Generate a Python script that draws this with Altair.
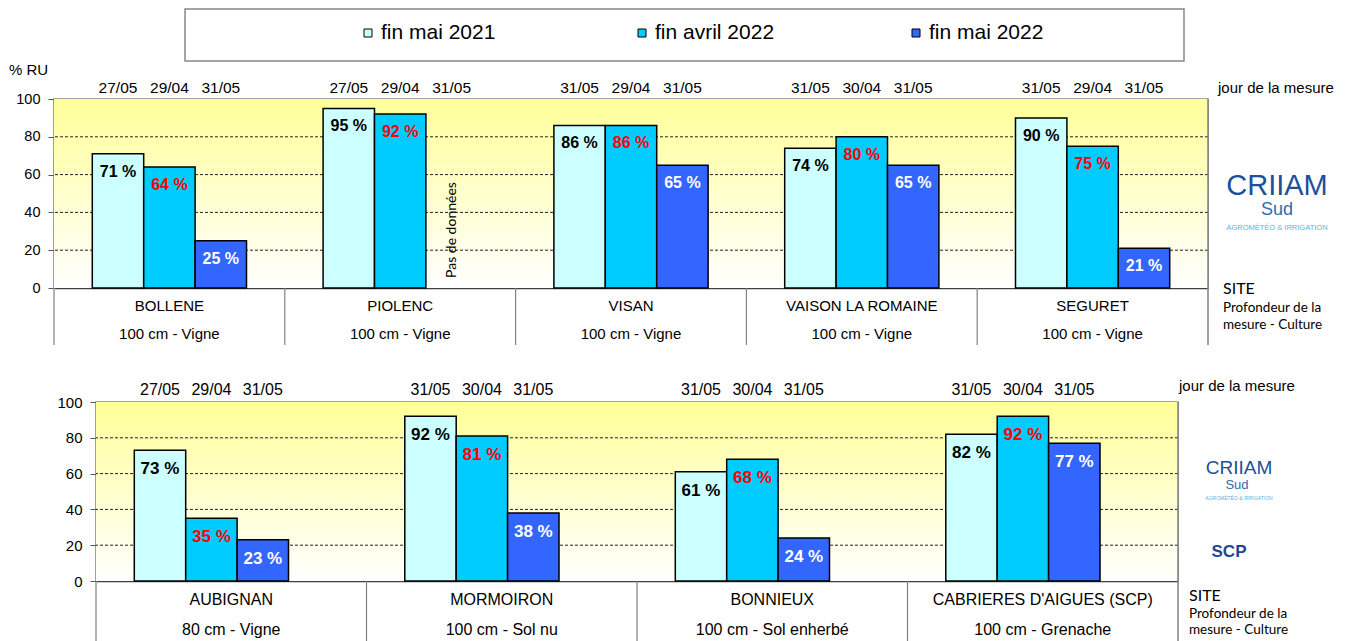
import altair as alt
import pandas as pd

FONT = "Liberation Sans"
FONT2 = "Lato"

series = ["fin mai 2021", "fin avril 2022", "fin mai 2022"]
bar_colors = ["#CCFFFF", "#00CCFF", "#3366FF"]
label_colors = ["#000000", "#FF0000", "#FFFFFF"]

top_sites = ["BOLLENE", "PIOLENC", "VISAN", "VAISON LA ROMAINE", "SEGURET"]
top_details = ["100 cm - Vigne", "100 cm - Vigne", "100 cm - Vigne", "100 cm - Vigne", "100 cm - Vigne"]
top_mai2021 = [71, 95, 86, 74, 90]
top_avril2022 = [64, 92, 86, 80, 75]
top_mai2022 = [25, None, 65, 65, 21]
top_jour_mai2021 = ["27/05", "27/05", "31/05", "31/05", "31/05"]
top_jour_avril2022 = ["29/04", "29/04", "29/04", "30/04", "29/04"]
top_jour_mai2022 = ["31/05", "31/05", "31/05", "31/05", "31/05"]
top_no_data_site = ["PIOLENC"]
top_no_data_series = ["fin mai 2022"]

bot_sites = ["AUBIGNAN", "MORMOIRON", "BONNIEUX", "CABRIERES D'AIGUES (SCP)"]
bot_details = ["80 cm - Vigne", "100 cm - Sol nu", "100 cm - Sol enherbé", "100 cm - Grenache"]
bot_mai2021 = [73, 92, 61, 82]
bot_avril2022 = [35, 81, 68, 92]
bot_mai2022 = [23, 38, 24, 77]
bot_jour_mai2021 = ["27/05", "31/05", "31/05", "31/05"]
bot_jour_avril2022 = ["29/04", "30/04", "30/04", "30/04"]
bot_jour_mai2022 = ["31/05", "31/05", "31/05", "31/05"]

y_ticks = [0, 20, 40, 60, 80, 100]
grid_levels = [20, 40, 60, 80]

ONE = pd.DataFrame({"k": [0]})
VIEW = alt.ViewBackground(stroke="#888888", strokeWidth=1.5)


def note(text, x, y, size, color="#000000", font=FONT, weight="normal", align="left"):
    return alt.Chart(pd.DataFrame({"t": [text]})).mark_text(
        font=font, fontSize=size, color=color, fontWeight=weight, align=align,
        baseline="middle"
    ).encode(x=alt.value(x), y=alt.value(y), text="t:N")


def panel(sites, details, vals, jours, nd_sites, nd_series, W, H, s, notes):
    rows = []
    for i, site in enumerate(sites):
        for k, ser in enumerate(series):
            v = vals[k][i]
            rows.append({"site": site, "series": ser, "value": v, "jour": jours[k][i],
                         "label": "" if v is None else f"{v} %", "tcol": label_colors[k]})
    df = pd.DataFrame(rows)
    bars_df = df[df["value"].notna()].copy()

    x_scale = alt.Scale(domain=sites, paddingInner=0, paddingOuter=0)
    x_axis = alt.Axis(title=None, labels=False, ticks=False, grid=False,
                      domainColor="#404040", domainWidth=1.5)
    xenc = alt.X("site:N", sort=sites, scale=x_scale, axis=x_axis)
    xoff = alt.XOffset("series:N", sort=series,
                       scale=alt.Scale(domain=series, paddingInner=0, paddingOuter=0.745))
    y_axis = alt.Axis(title=None, values=y_ticks, grid=False, tickSize=6, labelPadding=8,
                      labelFontSize=s["ylab"], labelFont=FONT, labelColor="#000000",
                      domainColor="#888888", domainWidth=1.5, tickColor="#555555")
    yenc = alt.Y("value:Q", scale=alt.Scale(domain=[0, 100]), axis=y_axis)

    bg = alt.Chart(ONE).mark_rect(
        fill=alt.Gradient(gradient="linear", x1=0, x2=0, y1=0, y2=1,
                          stops=[alt.GradientStop(color="#FFFF99", offset=0),
                                 alt.GradientStop(color="#FFFFFF", offset=1)])
    ).encode(x=alt.value(0), x2=alt.value(W), y=alt.value(0), y2=alt.value(H))

    grid = alt.Chart(pd.DataFrame({"value": grid_levels})).mark_rule(
        color="#222222", strokeWidth=1, strokeDash=[3, 2]
    ).encode(y=yenc)

    bars = alt.Chart(bars_df).mark_bar(stroke="black", strokeWidth=1.5).encode(
        x=xenc, xOffset=xoff, y=yenc,
        fill=alt.Fill("series:N", scale=alt.Scale(domain=series, range=bar_colors), legend=None)
    )
    vlab = alt.Chart(bars_df).mark_text(
        font=FONT, fontWeight="bold", fontSize=s["val"], dy=s["vdy"], baseline="middle"
    ).encode(x=xenc, xOffset=xoff, y=yenc, text="label:N", color=alt.Color("tcol:N", scale=None))

    dates = alt.Chart(df).mark_text(font=FONT, fontSize=s["date"], baseline="middle", color="black").encode(
        x=xenc, xOffset=xoff, y=alt.value(s["date_y"]), text="jour:N"
    )

    sdf = pd.DataFrame({"site": sites, "detail": details})
    seps = alt.Chart(sdf).mark_rule(color="#808080", strokeWidth=1.2).encode(
        x=alt.X("site:N", sort=sites, scale=x_scale, axis=x_axis, bandPosition=0),
        y=alt.value(H), y2=alt.value(H + s["sep"])
    )
    edge = alt.Chart(ONE).mark_rule(color="#808080", strokeWidth=1.5).encode(
        x=alt.value(W), y=alt.value(0), y2=alt.value(H + s["sep"])
    )
    names = alt.Chart(sdf).mark_text(font=FONT, fontSize=s["cat"], baseline="middle", color="#000000").encode(
        x=xenc, y=alt.value(H + s["name_y"]), text="site:N"
    )
    dets = alt.Chart(sdf).mark_text(font=FONT, fontSize=s["cat"], baseline="middle", color="#000000").encode(
        x=xenc, y=alt.value(H + s["det_y"]), text="detail:N"
    )

    layers = [bg, grid, bars, vlab, dates, seps, edge, names, dets]
    if nd_sites:
        nd = pd.DataFrame({"site": nd_sites, "series": nd_series, "t": ["Pas de données"] * len(nd_sites)})
        layers.append(
            alt.Chart(nd).mark_text(font=FONT2, fontSize=14, angle=270, align="left",
                                    baseline="middle", color="#000000").encode(
                x=xenc, xOffset=xoff, y=alt.value(H - 10), text="t:N")
        )
    layers += notes
    return alt.layer(*layers).properties(width=W, height=H, view=VIEW)


# ---- top panel ----
TW, TH = 1154, 189
top_notes = [
    note("% RU", -45, -29, 15),
    note("jour de la mesure", TW + 10, -11, 15),
    note("CRIIAM", TW + 69, 87, 29, color="#1c4f9c", align="center"),
    note("Sud", TW + 69, 111, 18, color="#2d6cb5", align="center"),
    note("AGROMÉTÉO & IRRIGATION", TW + 69, 129, 7.5, color="#5ab4e5", align="center"),
    note("SITE", TW + 15, TH + 1, 16, font=FONT2),
    note("Profondeur de la", TW + 15, TH + 20, 13.5, font=FONT2),
    note("mesure - Culture", TW + 15, TH + 37, 13.5, font=FONT2),
]
top = panel(top_sites, top_details, [top_mai2021, top_avril2022, top_mai2022],
            [top_jour_mai2021, top_jour_avril2022, top_jour_mai2022],
            top_no_data_site, top_no_data_series, TW, TH,
            dict(ylab=14.5, val=16, vdy=18, date=15.5, date_y=-11, cat=15, name_y=18, det_y=46, sep=57),
            top_notes)

# ---- bottom panel ----
BW, BH = 1082, 179
bot_notes = [
    note("jour de la mesure", BW + 1, -16, 15),
    note("CRIIAM", BW + 61, 66, 19, color="#1c4f9c", align="center"),
    note("Sud", BW + 59, 83, 13, color="#2d6cb5", align="center"),
    note("AGROMÉTÉO & IRRIGATION", BW + 61, 96, 5, color="#5ab4e5", align="center"),
    note("SCP", BW + 51, 150, 17, color="#1b4a94", weight="bold", align="center"),
    note("SITE", BW + 11, BH + 15, 16, font=FONT2),
    note("Profondeur de la", BW + 11, BH + 33, 13.5, font=FONT2),
    note("mesure - Culture", BW + 11, BH + 49, 13.5, font=FONT2),
]
bottom = panel(bot_sites, bot_details, [bot_mai2021, bot_avril2022, bot_mai2022],
               [bot_jour_mai2021, bot_jour_avril2022, bot_jour_mai2022],
               [], [], BW, BH,
               dict(ylab=15, val=17, vdy=19, date=16, date_y=-12, cat=16, name_y=19, det_y=49, sep=60),
               bot_notes)


def spacer(w, h):
    return alt.Chart(ONE).mark_rect(opacity=0).encode(
        x=alt.value(0), x2=alt.value(1), y=alt.value(0), y2=alt.value(1)
    ).properties(width=w, height=h)


# ---- legend ----
leg_df = pd.DataFrame({"series": series})
leg_x = alt.X("series:N", sort=series, axis=None,
              scale=alt.Scale(domain=series, range=[183, 731], padding=0))
leg_sym = alt.Chart(leg_df).mark_point(shape="square", filled=True, size=64, stroke="black",
                                       strokeWidth=1, opacity=1).encode(
    x=leg_x, y=alt.value(24),
    fill=alt.Fill("series:N", scale=alt.Scale(domain=series, range=bar_colors), legend=None)
)
leg_txt = alt.Chart(leg_df).mark_text(font=FONT, fontSize=21, align="left", dx=13, baseline="middle",
                                      color="#000000").encode(x=leg_x, y=alt.value(24), text="series:N")
legend = alt.layer(leg_sym, leg_txt).properties(width=999, height=52, view=VIEW)

legend_row = alt.hconcat(spacer(129, 52), legend, spacing=0)
bottom_row = alt.hconcat(spacer(1, 10), bottom, spacing=0)
inner = alt.vconcat(top, bottom_row, spacing=31)

chart = alt.vconcat(legend_row, inner, spacing=0).properties(padding=0).configure(
    font=FONT
).configure_view(stroke="transparent")

chart.save("out.html", embed_options={"renderer": "svg", "actions": False})
